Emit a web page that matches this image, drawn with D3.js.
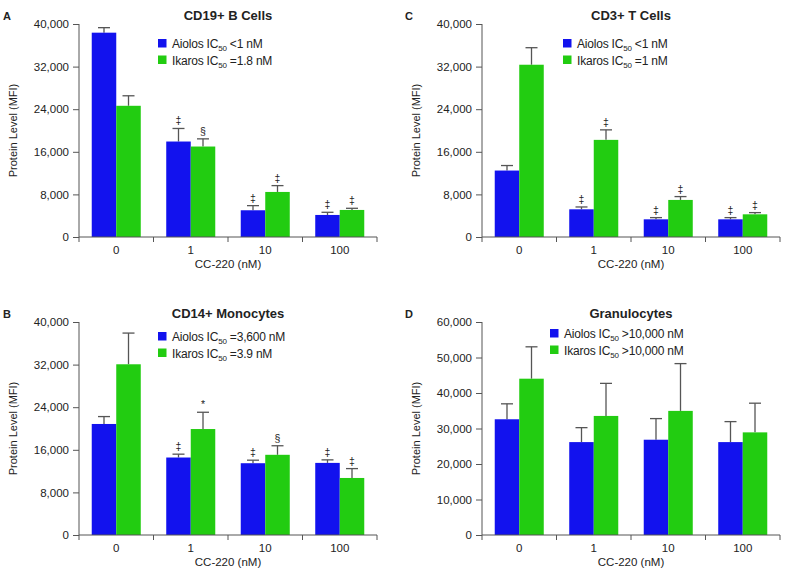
<!DOCTYPE html>
<html>
<head>
<meta charset="utf-8">
<script src="https://cdn.jsdelivr.net/npm/d3@7"></script>
<style>
  body { margin: 0; background: #fff; }
  svg { display: block; }
  text { font-family: "Liberation Sans", Arial, sans-serif; fill: #222; }
</style>
</head>
<body>
<svg id="chart" width="793" height="576"></svg>
<script>
let categories = ["0", "1", "10", "100"]
let series = ["Aiolos", "Ikaros"]

// panel A - CD19+ B cells
let aiolosA = [38370, 17930, 5020, 4140]
let aiolosErrA = [940, 2450, 870, 500]
let ikarosA = [24640, 16990, 8460, 5080]
let ikarosErrA = [1880, 1440, 1190, 310]
let aiolosMarkA = ["", "‡", "‡", "‡"]
let ikarosMarkA = ["", "§", "‡", "‡"]

// panel B - CD14+ monocytes
let aiolosB = [20850, 14550, 13480, 13540]
let aiolosErrB = [1390, 630, 570, 570]
let ikarosB = [32060, 19900, 15060, 10710]
let ikarosErrB = [5860, 3150, 1700, 1760]
let aiolosMarkB = ["", "‡", "‡", "‡"]
let ikarosMarkB = ["", "*", "§", "‡"]

// panel C - CD3+ T cells
let aiolosC = [12480, 5200, 3320, 3320]
let aiolosErrC = [940, 440, 320, 320]
let ikarosC = [32350, 18240, 6960, 4260]
let ikarosErrC = [3200, 1880, 630, 320]
let aiolosMarkC = ["", "‡", "‡", "‡"]
let ikarosMarkC = ["", "‡", "‡", "‡"]

// panel D - granulocytes
let aiolosD = [32600, 26170, 26840, 26170]
let aiolosErrD = [4350, 4070, 5950, 5770]
let ikarosD = [44030, 33540, 34960, 28910]
let ikarosErrD = [8980, 9170, 13320, 8220]
let noMarks = ["", "", "", ""]

let ticks40k = [0, 8000, 16000, 24000, 32000, 40000]
let ticks60k = [0, 10000, 20000, 30000, 40000, 50000, 60000]

let colors = {Aiolos: "#1212ee", Ikaros: "#22cc11"}

let panels = [
    {letter: "A", title: "CD19+ B Cells", dx: 0, dy: 0, max: 40000, ticks: ticks40k,
     vals: [aiolosA, ikarosA], errs: [aiolosErrA, ikarosErrA], marks: [aiolosMarkA, ikarosMarkA],
     legend: [["Aiolos IC", "50", " <1 nM"], ["Ikaros IC", "50", " =1.8 nM"]], lx: 158, ly: 39},
    {letter: "B", title: "CD14+ Monocytes", dx: 0, dy: 298, max: 40000, ticks: ticks40k,
     vals: [aiolosB, ikarosB], errs: [aiolosErrB, ikarosErrB], marks: [aiolosMarkB, ikarosMarkB],
     legend: [["Aiolos IC", "50", " =3,600 nM"], ["Ikaros IC", "50", " =3.9 nM"]], lx: 158, ly: 34},
    {letter: "C", title: "CD3+ T Cells", dx: 403, dy: 0, max: 40000, ticks: ticks40k,
     vals: [aiolosC, ikarosC], errs: [aiolosErrC, ikarosErrC], marks: [aiolosMarkC, ikarosMarkC],
     legend: [["Aiolos IC", "50", " <1 nM"], ["Ikaros IC", "50", " =1 nM"]], lx: 160, ly: 39},
    {letter: "D", title: "Granulocytes", dx: 403, dy: 298, max: 60000, ticks: ticks60k,
     vals: [aiolosD, ikarosD], errs: [aiolosErrD, ikarosErrD], marks: [noMarks, noMarks],
     legend: [["Aiolos IC", "50", " >10,000 nM"], ["Ikaros IC", "50", " >10,000 nM"]], lx: 147, ly: 31}
]

let svg = d3.select("#chart")
let plotLeft = 79, plotRight = 377, plotTop = 24, plotBottom = 237

panels.forEach(p => {
    let g = svg.append("g").attr("transform", `translate(${p.dx},${p.dy})`)

    let x0 = d3.scaleBand().domain(categories).range([plotLeft, plotRight])
    let x1 = d3.scaleBand().domain(series).range([0, x0.bandwidth()]).paddingOuter(0.52)
    let y = d3.scaleLinear().domain([0, p.max]).range([plotBottom, plotTop])

    // bars
    series.forEach((s, si) => {
        let rows = categories.map((c, i) => ({c, v: p.vals[si][i], e: p.errs[si][i], m: p.marks[si][i]}))
        let cx = d => x0(d.c) + x1(s) + x1.bandwidth() / 2

        // whiskers first so the bar sits on top
        g.selectAll(null).data(rows).enter().append("line")
            .attr("x1", cx).attr("x2", cx)
            .attr("y1", d => y(d.v)).attr("y2", d => y(d.v + d.e))
            .attr("stroke", "#555").attr("stroke-width", 1.3)
        g.selectAll(null).data(rows).enter().append("line")
            .attr("x1", d => cx(d) - 6).attr("x2", d => cx(d) + 6)
            .attr("y1", d => y(d.v + d.e)).attr("y2", d => y(d.v + d.e))
            .attr("stroke", "#555").attr("stroke-width", 1.3)

        g.selectAll(null).data(rows).enter().append("rect")
            .attr("x", d => x0(d.c) + x1(s))
            .attr("y", d => y(d.v))
            .attr("width", x1.bandwidth())
            .attr("height", d => y(0) - y(d.v))
            .attr("fill", colors[s])

        g.selectAll(null).data(rows.filter(d => d.m)).enter().append("text")
            .attr("x", cx)
            .attr("y", d => y(d.v + d.e) - 4)
            .attr("text-anchor", "middle")
            .attr("font-size", 10.5)
            .text(d => d.m)
    })

    // y axis
    let yAxis = d3.axisLeft(y).tickValues(p.ticks).tickSize(6).tickPadding(4)
        .tickFormat(d3.format(","))
    let ya = g.append("g").attr("transform", `translate(${plotLeft},0)`).call(yAxis)
    ya.select(".domain").attr("d", `M0,${plotTop}V${plotBottom + 5}`)
    ya.selectAll("line, path").attr("stroke", "#555")
    ya.selectAll("text").attr("font-size", 11.5).style("font-family", "Liberation Sans, Arial, sans-serif").attr("fill", "#222")

    // x axis: labels at band centres, ticks at band edges
    let xAxis = d3.axisBottom(x0).tickSize(0).tickPadding(9)
    let xa = g.append("g").attr("transform", `translate(0,${plotBottom})`).call(xAxis)
    xa.select(".domain").attr("stroke", "#555").attr("d", `M${plotLeft},0H${plotRight}`)
    xa.selectAll("text").attr("font-size", 11.5).style("font-family", "Liberation Sans, Arial, sans-serif").attr("fill", "#222")
    let edges = categories.map(c => x0(c) + x0.bandwidth())
    xa.selectAll(".edge").data(edges).enter().append("line")
        .attr("x1", d => d).attr("x2", d => d).attr("y1", 0).attr("y2", 5)
        .attr("stroke", "#555")

    g.append("text").attr("x", (plotLeft + plotRight) / 2).attr("y", 268)
        .attr("text-anchor", "middle").attr("font-size", 11.5).text("CC-220 (nM)")

    g.append("text").attr("transform", `translate(17,${(plotTop + plotBottom) / 2}) rotate(-90)`)
        .attr("text-anchor", "middle").attr("font-size", 11).text("Protein Level (MFI)")

    g.append("text").attr("x", (plotLeft + plotRight) / 2).attr("y", 20)
        .attr("text-anchor", "middle").attr("font-size", 13).attr("font-weight", "bold").text(p.title)

    g.append("text").attr("x", p.letter == "A" || p.letter == "B" ? 3 : 2).attr("y", 20)
        .attr("font-size", 11).attr("font-weight", "bold").text(p.letter)

    // legend
    series.forEach((s, si) => {
        let ly = p.ly + si * 16.5
        g.append("rect").attr("x", p.lx).attr("y", ly).attr("width", 8.5).attr("height", 8.5)
            .attr("fill", colors[s])
        let t = g.append("text").attr("x", p.lx + 14).attr("y", ly + 9)
            .attr("font-size", 12).attr("letter-spacing", -0.2)
        let parts = p.legend[si]
        t.append("tspan").text(parts[0])
        t.append("tspan").attr("font-size", 8).attr("dy", 3).text(parts[1])
        t.append("tspan").attr("dy", -3).text(parts[2])
    })
})
</script>
</body>
</html>
